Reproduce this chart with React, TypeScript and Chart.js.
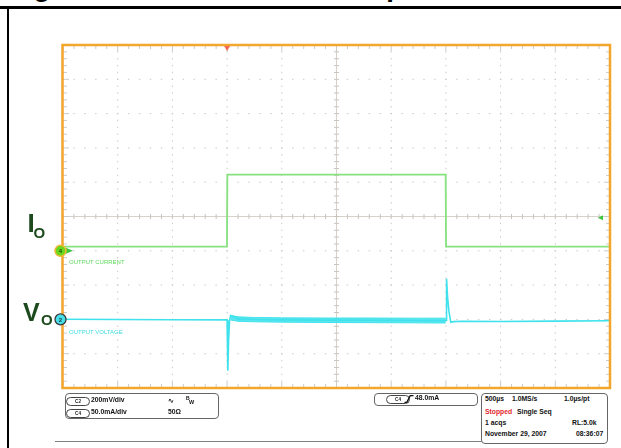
import React, { useEffect, useRef } from "react";
import { Chart, registerables } from "chart.js";

Chart.register(...registerables);

// ---- Scope settings ----
const X_MIN_US = -1500; // 500 µs/div, trigger at 3rd division
const X_MAX_US = 3500;
const X_MAJOR_US = 500;
const X_MINOR_US = 100;
const Y_DIVS = 5;
const C4_SCALE_MA = 50; // mA/div
const C2_SCALE_MV = 200; // mV/div
const C4_OFFSET_DIV = -1;
const C2_OFFSET_DIV = -3;
const TRIGGER_LEVEL_MA = 48;

// ---- Output current (C4, mA) ----
const currentTime = [-1500, -1, 2, 1998, 2001, 3500];
const currentMA = [6, 6, 111, 111, 6, 6];

// ---- Output voltage (C2, mV, AC) ----
const voltageTime = [
  -1500, -1000, -500, 0, 5, 8, 14, 22, 32, 100, 250, 500, 900, 1300, 1700, 1998,
  2001, 2006, 2015, 2028, 2045, 2070, 2150, 2500, 3000, 3500,
];
const voltageMV = [
  1, -1, -2, -3, -3, -300, -120, -10, 22, 3, -1, -3, -4, -5, -6, -7,
  -6, 237, 132, 45, -17, -13, -11, -12, -10, -8,
];

// ---- Ripple envelope during the load step (mV) ----
const rippleTime = [32, 100, 250, 500, 900, 1300, 1700, 1998];
const rippleHighMV = [24, 15, 11, 9, 8, 8, 7, 7];
const rippleLowMV = [-3, -11, -14, -16, -18, -19, -20, -21];

const toC4 = (v: number) => v / C4_SCALE_MA + C4_OFFSET_DIV;
const toC2 = (v: number) => v / C2_SCALE_MV + C2_OFFSET_DIV;
const pts = (t: number[], v: number[], f: (n: number) => number) =>
  t.map((x, i) => ({ x, y: f(v[i]) }));

const GREEN = "#86e27e";
const CYAN = "#3fe2ec";
const CYAN_BAND = "rgba(63,226,236,0.85)";
const ORANGE = "#f4a52c";
const FONT = "'Liberation Sans', Arial, sans-serif";

const scopePlugin = {
  id: "scopeDecor",
  beforeDatasetsDraw(chart: any) {
    const { ctx, chartArea: a, scales } = chart;
    const xs = scales.x;
    const ys = scales.y;
    ctx.save();
    const xMinor: number[] = [];
    for (let v = X_MIN_US; v <= X_MAX_US + 1; v += X_MINOR_US) xMinor.push(v);
    const yMinor: number[] = [];
    for (let v = -Y_DIVS; v <= Y_DIVS + 0.001; v += 0.2) yMinor.push(Math.round(v * 10) / 10);
    const xMajor: number[] = [];
    for (let v = X_MIN_US; v <= X_MAX_US; v += X_MAJOR_US) xMajor.push(v);
    const yMajor: number[] = [];
    for (let v = -Y_DIVS; v <= Y_DIVS; v += 1) yMajor.push(v);
    const xc = xs.getPixelForValue((X_MIN_US + X_MAX_US) / 2);
    const yc = ys.getPixelForValue(0);

    // dotted graticule
    ctx.fillStyle = "#cacaca";
    xMajor.forEach((v) => {
      const px = xs.getPixelForValue(v);
      if (Math.abs(px - xc) < 1 || px <= a.left + 1 || px >= a.right - 1) return;
      yMinor.forEach((w) => {
        const py = ys.getPixelForValue(w);
        ctx.fillRect(px - 0.5, py - 0.75, 1, 1.5);
      });
    });
    yMajor.forEach((w) => {
      const py = ys.getPixelForValue(w);
      if (Math.abs(py - yc) < 1 || py <= a.top + 1 || py >= a.bottom - 1) return;
      xMinor.forEach((v) => {
        const px = xs.getPixelForValue(v);
        ctx.fillRect(px - 0.75, py - 0.5, 1.5, 1);
      });
    });

    // centre cross with ticks
    ctx.strokeStyle = "#d6d2ca";
    ctx.lineWidth = 1;
    ctx.beginPath();
    ctx.moveTo(a.left, yc);
    ctx.lineTo(a.right, yc);
    ctx.moveTo(xc, a.top);
    ctx.lineTo(xc, a.bottom);
    ctx.stroke();
    ctx.strokeStyle = "#c8c4bc";
    ctx.beginPath();
    xMinor.forEach((v) => {
      const px = xs.getPixelForValue(v);
      ctx.moveTo(px, yc - 2.5);
      ctx.lineTo(px, yc + 2.5);
    });
    yMinor.forEach((w) => {
      const py = ys.getPixelForValue(w);
      ctx.moveTo(xc - 2.5, py);
      ctx.lineTo(xc + 2.5, py);
    });
    ctx.stroke();

    // edge ticks
    ctx.strokeStyle = "#cbcbcb";
    ctx.beginPath();
    xMinor.forEach((v) => {
      const px = xs.getPixelForValue(v);
      const major = Math.abs(((v - X_MIN_US) % X_MAJOR_US)) < 1;
      const len = major ? 6 : 4;
      ctx.moveTo(px, a.top);
      ctx.lineTo(px, a.top + len);
      ctx.moveTo(px, a.bottom);
      ctx.lineTo(px, a.bottom - len);
    });
    yMinor.forEach((w) => {
      const py = ys.getPixelForValue(w);
      const major = Math.abs(w - Math.round(w)) < 0.01;
      const len = major ? 6 : 4;
      ctx.moveTo(a.left, py);
      ctx.lineTo(a.left + len, py);
      ctx.moveTo(a.right, py);
      ctx.lineTo(a.right - len, py);
    });
    ctx.stroke();
    ctx.restore();
  },
  afterDatasetsDraw(chart: any) {
    const { ctx, chartArea: a, scales } = chart;
    const xs = scales.x;
    const ys = scales.y;
    ctx.save();
    // orange frame
    ctx.strokeStyle = ORANGE;
    ctx.lineWidth = 2.5;
    ctx.strokeRect(a.left - 0.5, a.top, a.right - a.left + 0.5, a.bottom - a.top);

    // trigger position marker
    const tx = xs.getPixelForValue(0);
    ctx.fillStyle = "#f26b55";
    ctx.beginPath();
    ctx.moveTo(tx - 3, a.top + 1);
    ctx.lineTo(tx + 3, a.top + 1);
    ctx.lineTo(tx, a.top + 6);
    ctx.closePath();
    ctx.fill();

    // trigger level arrow on the right
    const ty = ys.getPixelForValue(toC4(TRIGGER_LEVEL_MA));
    ctx.fillStyle = "#3cc83c";
    ctx.beginPath();
    ctx.moveTo(a.right - 12, ty);
    ctx.lineTo(a.right - 7, ty - 2.5);
    ctx.lineTo(a.right - 7, ty + 2.5);
    ctx.closePath();
    ctx.fill();

    // channel 4 ground marker
    const c4y = ys.getPixelForValue(toC4(0));
    ctx.fillStyle = "#3cc83c";
    ctx.beginPath();
    ctx.moveTo(a.left + 10, c4y);
    ctx.lineTo(a.left + 3, c4y - 3);
    ctx.lineTo(a.left + 3, c4y + 3);
    ctx.closePath();
    ctx.fill();
    ctx.beginPath();
    ctx.arc(a.left - 2.5, c4y, 5.5, 0, Math.PI * 2);
    ctx.fillStyle = "#6ad81c";
    ctx.fill();
    ctx.lineWidth = 1.5;
    ctx.strokeStyle = "#f0b838";
    ctx.stroke();
    ctx.fillStyle = "#1f4f10";
    ctx.font = `bold 6px ${FONT}`;
    ctx.textAlign = "center";
    ctx.textBaseline = "middle";
    ctx.fillText("4", a.left - 2.5, c4y + 0.5);

    // channel 2 ground marker
    const c2y = ys.getPixelForValue(toC2(0));
    ctx.beginPath();
    ctx.arc(a.left - 2.5, c2y, 5.5, 0, Math.PI * 2);
    ctx.fillStyle = "#45e0ea";
    ctx.fill();
    ctx.lineWidth = 1.3;
    ctx.strokeStyle = "#3a3a3a";
    ctx.stroke();
    ctx.fillStyle = "#1a3a40";
    ctx.fillText("2", a.left - 2.5, c2y + 0.5);
    ctx.restore();
  },
};

const Txt = ({
  x,
  y,
  text,
  size = 6.8,
  bold = true,
  color = "#111",
}: {
  x: number;
  y: number;
  text: string;
  size?: number;
  bold?: boolean;
  color?: string;
}) => (
  <div
    style={{
      position: "absolute",
      left: x,
      top: y - size * 0.49,
      fontSize: size,
      lineHeight: 1,
      fontWeight: bold ? 700 : 400,
      color,
      whiteSpace: "nowrap",
      fontFamily: FONT,
    }}
  >
    {text}
  </div>
);

const Pill = ({ x, y, label }: { x: number; y: number; label: string }) => (
  <div
    style={{
      position: "absolute",
      left: x,
      top: y - 4,
      width: 22,
      height: 7,
      border: "1px solid #444",
      borderRadius: 5,
      fontSize: 4.6,
      lineHeight: "7px",
      textAlign: "center",
      fontWeight: 700,
      color: "#222",
      fontFamily: FONT,
    }}
  >
    {label}
  </div>
);

export default function App() {
  const ref = useRef<HTMLCanvasElement | null>(null);
  useEffect(() => {
    if (!ref.current) return;
    const chart = new Chart(ref.current, {
      type: "line",
      data: {
        datasets: [
          {
            label: "ripple high",
            data: pts(rippleTime, rippleHighMV, toC2),
            borderColor: CYAN,
            borderWidth: 1,
            pointRadius: 0,
            fill: false,
          },
          {
            label: "ripple low",
            data: pts(rippleTime, rippleLowMV, toC2),
            borderColor: CYAN,
            borderWidth: 1,
            pointRadius: 0,
            backgroundColor: CYAN_BAND,
            fill: "-1",
          },
          {
            label: "Output voltage",
            data: pts(voltageTime, voltageMV, toC2),
            borderColor: CYAN,
            borderWidth: 1.6,
            pointRadius: 0,
            fill: false,
          },
          {
            label: "Output current",
            data: pts(currentTime, currentMA, toC4),
            borderColor: GREEN,
            borderWidth: 1.8,
            pointRadius: 0,
            fill: false,
          },
        ],
      },
      options: {
        animation: false,
        responsive: true,
        maintainAspectRatio: false,
        parsing: false,
        normalized: true,
        layout: { padding: { left: 63, top: 45, right: 11, bottom: 60 } },
        plugins: {
          legend: { display: false },
          tooltip: { enabled: false },
          title: { display: false },
        },
        scales: {
          x: { type: "linear", min: X_MIN_US, max: X_MAX_US, display: false },
          y: { type: "linear", min: -Y_DIVS, max: Y_DIVS, display: false },
        },
        elements: { line: { tension: 0 } },
      },
      plugins: [scopePlugin],
    });
    return () => chart.destroy();
  }, []);

  return (
    <div
      style={{
        position: "absolute",
        left: 0,
        top: 0,
        width: 621,
        height: 448,
        background: "#fff",
        overflow: "hidden",
        fontFamily: FONT,
      }}
    >
      {/* cut-off caption above the figure */}
      <div
        style={{
          position: "absolute",
          left: 0,
          top: 0,
          width: 621,
          height: 6,
          overflow: "hidden",
        }}
      >
        <div
          style={{
            position: "absolute",
            left: 9,
            top: -27,
            fontSize: 27.6,
            lineHeight: 1,
            fontWeight: 700,
            whiteSpace: "nowrap",
            color: "#000",
          }}
        >
          Figure 5. Load Transient Response
        </div>
      </div>
      <div style={{ position: "absolute", left: 0, top: 6, width: 621, height: 2.5, background: "#000" }} />
      <div style={{ position: "absolute", left: 7, top: 6, width: 2, height: 442, background: "#000" }} />

      <div style={{ position: "absolute", left: 0, top: 0, width: 621, height: 448 }}>
        <canvas ref={ref} />
      </div>

      {/* channel labels */}
      <div style={{ position: "absolute", left: 27.5, top: 210, fontSize: 26, lineHeight: 1, fontWeight: 700, color: "#1d4a1d" }}>I</div>
      <div style={{ position: "absolute", left: 33.5, top: 225, fontSize: 15, lineHeight: 1, fontWeight: 700, color: "#1d4a1d" }}>O</div>
      <div style={{ position: "absolute", left: 23, top: 300, fontSize: 25, lineHeight: 1, fontWeight: 700, color: "#1d4a1d" }}>V</div>
      <div style={{ position: "absolute", left: 41, top: 312, fontSize: 15, lineHeight: 1, fontWeight: 700, color: "#1d4a1d" }}>O</div>

      <Txt x={69} y={262} text="OUTPUT CURRENT" size={6} bold={false} color="#5cd85c" />
      <Txt x={69} y={332} text="OUTPUT VOLTAGE" size={6} bold={false} color="#3fdbe4" />

      {/* bottom line */}
      <div style={{ position: "absolute", left: 55, top: 440.5, width: 552, height: 1.5, background: "#808080" }} />

      {/* channel settings box */}
      <div style={{ position: "absolute", left: 65, top: 393, width: 152, height: 24, border: "1px solid #666", borderRadius: 4, background: "#fff" }} />
      <Pill x={66} y={400.5} label="C2" />
      <Txt x={91} y={400.5} text="200mV/div" />
      <Txt x={168} y={400.5} text="∿" size={7} />
      <Txt x={186} y={398.5} text="B" size={5} />
      <Txt x={189} y={402.5} text="W" size={5.5} />
      <Pill x={66} y={412.7} label="C4" />
      <Txt x={91} y={412.7} text="50.0mA/div" />
      <Txt x={168} y={412.7} text="50Ω" />

      {/* trigger box */}
      <div style={{ position: "absolute", left: 374, top: 393, width: 102, height: 10.5, border: "1px solid #666", borderRadius: 4, background: "#fff" }} />
      <Pill x={386} y={398.8} label="C4" />
      <svg style={{ position: "absolute", left: 404, top: 395 }} width="10" height="8" viewBox="0 0 10 8">
        <path d="M0.5 7.3 L2.8 7.3 L6.2 0.7 L9.5 0.7" fill="none" stroke="#111" strokeWidth="1.3" />
      </svg>
      <Txt x={415} y={398.8} text="48.0mA" />

      {/* acquisition box */}
      <div style={{ position: "absolute", left: 481, top: 393, width: 125, height: 49, border: "1px solid #666", borderRadius: 4, background: "#fff" }} />
      <Txt x={485} y={399.5} text="500µs" />
      <Txt x={512} y={399.5} text="1.0MS/s" />
      <Txt x={564} y={399.5} text="1.0µs/pt" />
      <Txt x={485} y={412} text="Stopped" color="#e3262c" />
      <Txt x={517} y={412} text="Single Seq" />
      <Txt x={485} y={423.5} text="1 acqs" />
      <Txt x={572} y={423.5} text="RL:5.0k" />
      <Txt x={485} y={434.5} text="November 29, 2007" />
      <Txt x={576} y={434.5} text="08:36:07" />
    </div>
  );
}
